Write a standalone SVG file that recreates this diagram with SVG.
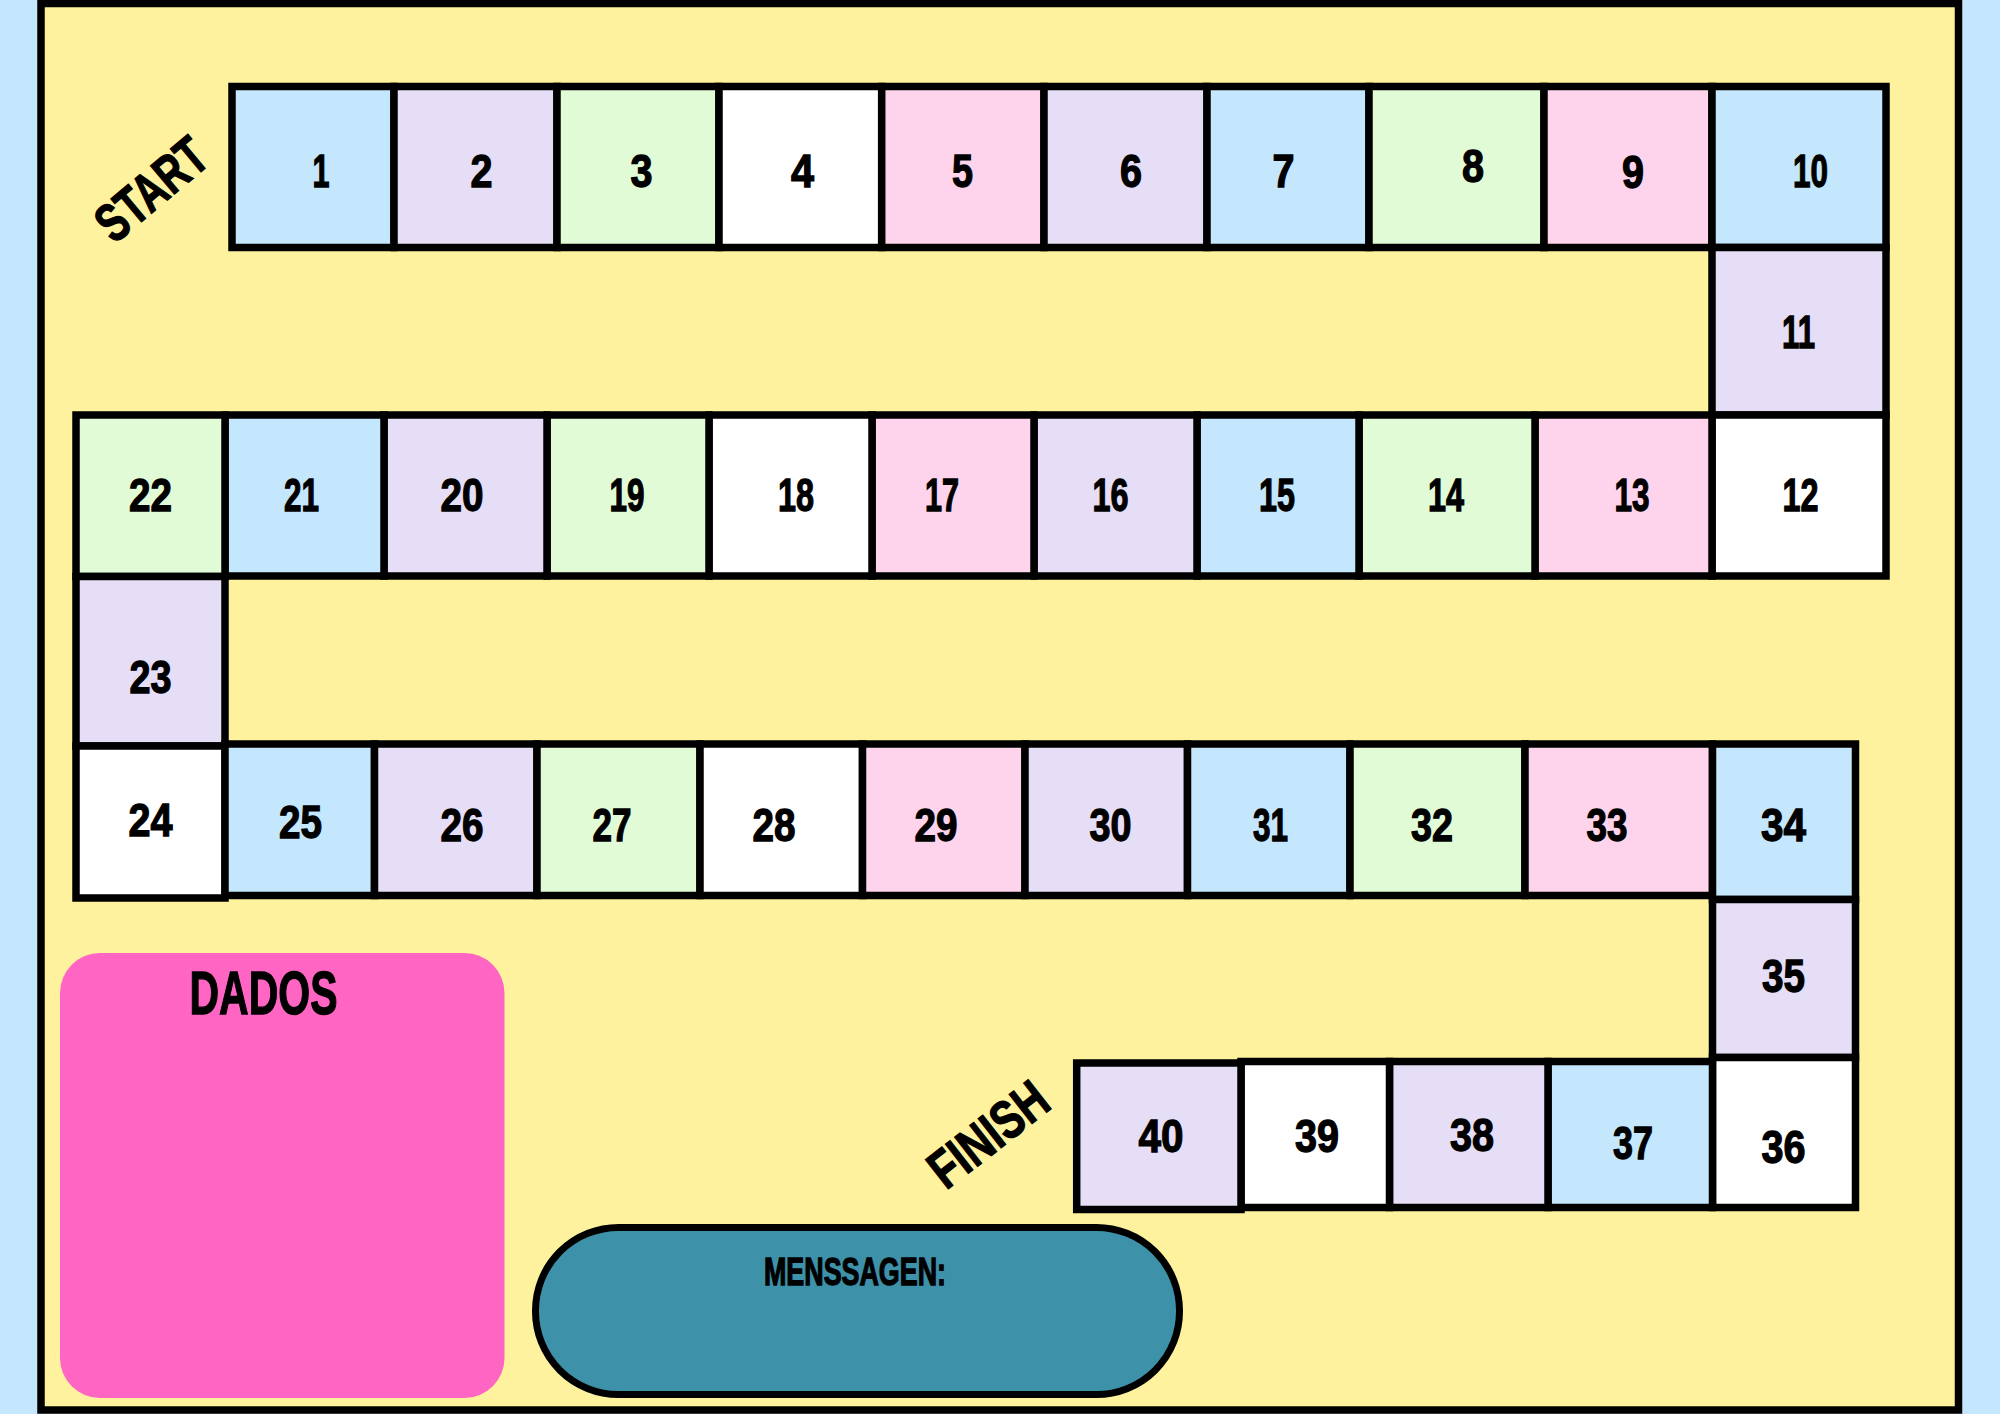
<svg xmlns="http://www.w3.org/2000/svg" width="2000" height="1414" viewBox="0 0 2000 1414">
<style>
.c rect{stroke:#000;stroke-width:7.5}
.b{fill:#C4E7FD}.l{fill:#E5DEF6}.g{fill:#E1FBD7}.p{fill:#FDD4EC}.w{fill:#FFFFFF}
text{font-family:"Liberation Sans",Arial,sans-serif;font-weight:bold;fill:#000;stroke:#000;stroke-width:1.3}
.c text{font-size:47px;text-anchor:middle}
.t{text-anchor:middle}
</style>
<rect x="0" y="0" width="2000" height="1414" fill="#C4E7FD"/>
<rect id="board" x="41" y="3.5" width="1917.5" height="1406.5" fill="#FFF29E" stroke="#000" stroke-width="7.5"/>

<g id="start"><text class="t" transform="translate(151,189) rotate(-40)" x="0" y="19" font-size="54" textLength="128" lengthAdjust="spacingAndGlyphs">START</text></g>
<g id="finish"><text class="t" transform="translate(988,1134) rotate(-38)" x="0" y="19" font-size="54" textLength="136" lengthAdjust="spacingAndGlyphs">FINISH</text></g>

<g id="cells" class="c">
<g id="c1"><rect class="b" x="232" y="86.5" width="162" height="161"/><text x="321" y="187" textLength="17" lengthAdjust="spacingAndGlyphs">1</text></g>
<g id="c2"><rect class="l" x="394" y="86.5" width="163" height="161"/><text x="481.5" y="187" textLength="22" lengthAdjust="spacingAndGlyphs">2</text></g>
<g id="c3"><rect class="g" x="557" y="86.5" width="162" height="161"/><text x="641.5" y="187" textLength="22" lengthAdjust="spacingAndGlyphs">3</text></g>
<g id="c4"><rect class="w" x="719" y="86.5" width="162.7" height="161"/><text x="802.5" y="187" textLength="23" lengthAdjust="spacingAndGlyphs">4</text></g>
<g id="c5"><rect class="p" x="881.7" y="86.5" width="162.3" height="161"/><text x="962.5" y="187" textLength="21" lengthAdjust="spacingAndGlyphs">5</text></g>
<g id="c6"><rect class="l" x="1044" y="86.5" width="163" height="161"/><text x="1131" y="187" textLength="22" lengthAdjust="spacingAndGlyphs">6</text></g>
<g id="c7"><rect class="b" x="1207" y="86.5" width="162" height="161"/><text x="1283.5" y="187" textLength="22" lengthAdjust="spacingAndGlyphs">7</text></g>
<g id="c8"><rect class="g" x="1369" y="86.5" width="175" height="161"/><text x="1473" y="182" textLength="22" lengthAdjust="spacingAndGlyphs">8</text></g>
<g id="c9"><rect class="p" x="1544" y="86.5" width="168" height="161"/><text x="1633" y="187.5" textLength="22" lengthAdjust="spacingAndGlyphs">9</text></g>
<g id="c10"><rect class="b" x="1712" y="86.5" width="174" height="161"/><text x="1810.5" y="187" textLength="35" lengthAdjust="spacingAndGlyphs">10</text></g>
<g id="c11"><rect class="l" x="1712" y="247.5" width="174" height="167.5"/><text x="1798.5" y="347.5" textLength="33" lengthAdjust="spacingAndGlyphs">11</text></g>
<g id="c12"><rect class="w" x="1712" y="415" width="174" height="161"/><text x="1800.5" y="511" textLength="36" lengthAdjust="spacingAndGlyphs">12</text></g>
<g id="c13"><rect class="p" x="1535" y="415" width="177" height="161"/><text x="1632" y="511" textLength="35" lengthAdjust="spacingAndGlyphs">13</text></g>
<g id="c14"><rect class="g" x="1359" y="415" width="176" height="161"/><text x="1446" y="511" textLength="36" lengthAdjust="spacingAndGlyphs">14</text></g>
<g id="c15"><rect class="b" x="1197" y="415" width="162" height="161"/><text x="1277" y="511" textLength="36" lengthAdjust="spacingAndGlyphs">15</text></g>
<g id="c16"><rect class="l" x="1034" y="415" width="163" height="161"/><text x="1110.5" y="511" textLength="36" lengthAdjust="spacingAndGlyphs">16</text></g>
<g id="c17"><rect class="p" x="872" y="415" width="162" height="161"/><text x="942" y="511" textLength="34" lengthAdjust="spacingAndGlyphs">17</text></g>
<g id="c18"><rect class="w" x="709" y="415" width="163" height="161"/><text x="796" y="511" textLength="36" lengthAdjust="spacingAndGlyphs">18</text></g>
<g id="c19"><rect class="g" x="547" y="415" width="162" height="161"/><text x="627" y="511" textLength="35" lengthAdjust="spacingAndGlyphs">19</text></g>
<g id="c20"><rect class="l" x="384" y="415" width="163" height="161"/><text x="462" y="511" textLength="43" lengthAdjust="spacingAndGlyphs">20</text></g>
<g id="c21"><rect class="b" x="225" y="415" width="159" height="161"/><text x="301.5" y="511" textLength="35" lengthAdjust="spacingAndGlyphs">21</text></g>
<g id="c22"><rect class="g" x="76" y="415" width="149" height="161.5"/><text x="150.5" y="511" textLength="43" lengthAdjust="spacingAndGlyphs">22</text></g>
<g id="c23"><rect class="l" x="76" y="576.5" width="149" height="169.5"/><text x="150.5" y="693" textLength="42" lengthAdjust="spacingAndGlyphs">23</text></g>
<g id="c24"><rect class="w" x="76" y="746" width="149" height="152"/><text x="150.5" y="835.5" textLength="44" lengthAdjust="spacingAndGlyphs">24</text></g>
<g id="c25"><rect class="b" x="225" y="744" width="149.5" height="151.5"/><text x="300.5" y="838" textLength="43" lengthAdjust="spacingAndGlyphs">25</text></g>
<g id="c26"><rect class="l" x="374.5" y="744" width="162.5" height="151.5"/><text x="462" y="840.5" textLength="43" lengthAdjust="spacingAndGlyphs">26</text></g>
<g id="c27"><rect class="g" x="537" y="744" width="163" height="151.5"/><text x="612" y="840.5" textLength="39" lengthAdjust="spacingAndGlyphs">27</text></g>
<g id="c28"><rect class="w" x="700" y="744" width="162.5" height="151.5"/><text x="774" y="841" textLength="43" lengthAdjust="spacingAndGlyphs">28</text></g>
<g id="c29"><rect class="p" x="862.5" y="744" width="162.5" height="151.5"/><text x="936" y="841" textLength="43" lengthAdjust="spacingAndGlyphs">29</text></g>
<g id="c30"><rect class="l" x="1025" y="744" width="162.5" height="151.5"/><text x="1110.5" y="841" textLength="42" lengthAdjust="spacingAndGlyphs">30</text></g>
<g id="c31"><rect class="b" x="1187.5" y="744" width="162.5" height="151.5"/><text x="1270.5" y="841" textLength="35" lengthAdjust="spacingAndGlyphs">31</text></g>
<g id="c32"><rect class="g" x="1350" y="744" width="175" height="151.5"/><text x="1432" y="841" textLength="42" lengthAdjust="spacingAndGlyphs">32</text></g>
<g id="c33"><rect class="p" x="1525" y="744" width="187.5" height="151.5"/><text x="1607" y="841" textLength="41" lengthAdjust="spacingAndGlyphs">33</text></g>
<g id="c34"><rect class="b" x="1712.5" y="744" width="143" height="155.5"/><text x="1783.5" y="841" textLength="45" lengthAdjust="spacingAndGlyphs">34</text></g>
<g id="c35"><rect class="l" x="1712.5" y="899.5" width="143" height="158"/><text x="1783.5" y="991.5" textLength="43" lengthAdjust="spacingAndGlyphs">35</text></g>
<g id="c36"><rect class="w" x="1712.5" y="1057.5" width="143" height="150"/><text x="1783.5" y="1163" textLength="44" lengthAdjust="spacingAndGlyphs">36</text></g>
<g id="c37"><rect class="b" x="1548" y="1061.5" width="164.5" height="146"/><text x="1633" y="1158.5" textLength="40" lengthAdjust="spacingAndGlyphs">37</text></g>
<g id="c38"><rect class="l" x="1389.5" y="1061.5" width="158.5" height="146"/><text x="1472" y="1151" textLength="44" lengthAdjust="spacingAndGlyphs">38</text></g>
<g id="c39"><rect class="w" x="1241" y="1061.5" width="148.5" height="146"/><text x="1317" y="1152" textLength="44" lengthAdjust="spacingAndGlyphs">39</text></g>
<g id="c40"><rect class="l" x="1076.7" y="1063" width="164.3" height="146.5"/><text x="1161" y="1152" textLength="45" lengthAdjust="spacingAndGlyphs">40</text></g>
</g>

<g id="dados">
<rect x="60" y="953" width="444.5" height="445" rx="40" fill="#FF66C4"/>
<text class="t" x="263.5" y="1013.5" font-size="61" textLength="148" lengthAdjust="spacingAndGlyphs">DADOS</text>
</g>

<g id="mensagem">
<rect x="535.5" y="1227.5" width="644" height="167" rx="83" fill="#3D91A9" stroke="#000" stroke-width="7"/>
<text class="t" x="855" y="1285" font-size="39" textLength="182" lengthAdjust="spacingAndGlyphs">MENSSAGEN:</text>
</g>
</svg>
